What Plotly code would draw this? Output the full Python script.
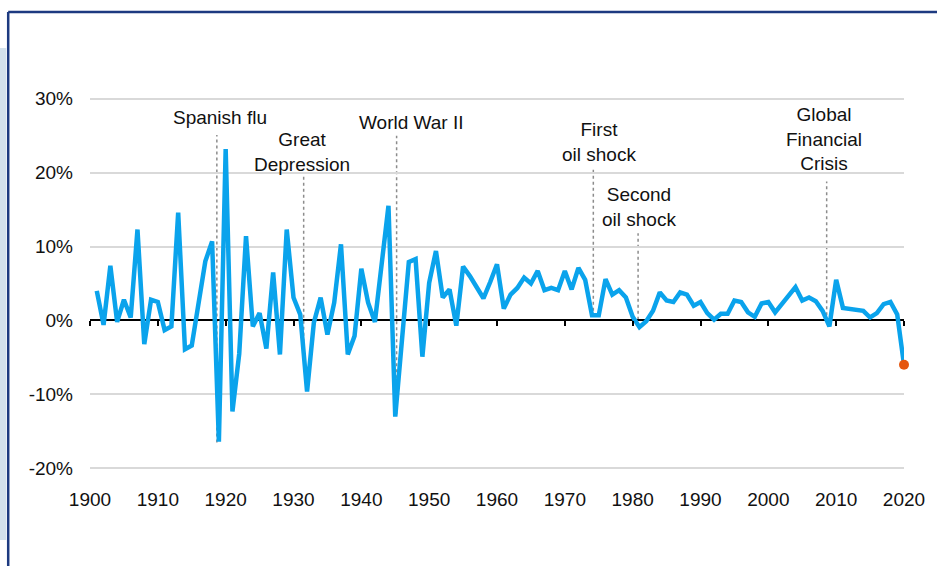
import plotly.graph_objects as go

# ── Dados ─────────────────────────────────────────────────────────────────────
years = list(range(1901, 2021))
growth = [
    4.0, -0.6, 7.4, -0.2, 2.8, 0.4, 12.3, -3.2, 2.8, 2.5,        # 1901-1910
    -1.3, -0.8, 14.6, -3.9, -3.4, 2.6, 8.0, 10.7, -16.4, 23.2,   # 1911-1920
    -12.3, -4.5, 11.4, -0.8, 1.0, -3.8, 6.5, -4.6, 12.3, 3.1,    # 1921-1930
    0.8, -9.6, -0.3, 3.1, -1.9, 2.4, 10.3, -4.6, -2.1, 7.0,      # 1931-1940
    2.4, -0.2, 7.5, 15.5, -13.0, -2.5, 7.9, 8.3, -4.9, 5.1,      # 1941-1950
    9.4, 3.1, 4.2, -0.7, 7.3, 6.0, 4.6, 3.0, 5.2, 7.6,           # 1951-1960
    1.6, 3.5, 4.4, 5.8, 5.0, 6.7, 4.1, 4.4, 4.1, 6.7,            # 1961-1970
    4.2, 7.1, 5.5, 0.7, 0.7, 5.6, 3.5, 4.1, 3.1, 0.5,            # 1971-1980
    -0.9, -0.1, 1.3, 3.8, 2.7, 2.5, 3.8, 3.5, 2.0, 2.5,          # 1981-1990
    1.0, 0.1, 0.9, 0.9, 2.7, 2.5, 1.1, 0.5, 2.3, 2.5,            # 1991-2000
    1.1, 2.3, 3.5, 4.5, 2.7, 3.1, 2.6, 1.3, -0.8, 5.5,           # 2001-2010
    1.7, 1.6, 1.4, 1.3, 0.4, 1.0, 2.2, 2.5, 0.8, -6.0,           # 2011-2020
]

event_labels = ["Spanish flu", "Great<br>Depression", "World War II",
                "First<br>oil shock", "Second<br>oil shock", "Global<br>Financial<br>Crisis"]
event_years = [1918.7, 1931.5, 1945.2, 1974.2, 1980.8, 2008.6]

y_ticks = [-20, -10, 0, 10, 20, 30]
y_tick_text = ["-20%", "-10%", "0%", "10%", "20%", "30%"]
x_ticks = list(range(1900, 2021, 10))

# ── Posicionamento dos rótulos (centro do texto) e das linhas pontilhadas ───
label_x = [1919.1, 1931.2, 1947.4, 1975.0, 1980.9, 2008.2]
label_y = [27.4, 22.8, 26.8, 24.2, 15.3, 24.5]
line_top = [25.1, 19.5, 25.0, 20.4, 11.8, 18.8]
line_bottom = [-16.5, -5.3, -12.7, 0.5, 0.1, -0.1]

AZUL = "#0AA3EC"
LARANJA = "#E5560F"
FONT = "Liberation Sans, Arial, sans-serif"

W, H = 937, 566
M_L, M_R, M_T, M_B = 90, 31, 95, 94
Y_RANGE = [-20.5, 30.5]


def px_to_paper(px, py):
    pw = W - M_L - M_R
    ph = H - M_T - M_B
    return (px - M_L) / pw, 1 - (py - M_T) / ph


fig = go.Figure()

fig.add_trace(go.Scatter(
    x=years, y=growth, mode="lines",
    line=dict(color=AZUL, width=4.5),
    cliponaxis=False, hoverinfo="skip", showlegend=False,
))
fig.add_trace(go.Scatter(
    x=[years[-1]], y=[growth[-1]], mode="markers",
    marker=dict(color=LARANJA, size=10),
    xaxis="x2", cliponaxis=False, hoverinfo="skip", showlegend=False,
))

# linhas pontilhadas dos eventos
for ex, top, bot in zip(event_years, line_top, line_bottom):
    fig.add_shape(type="line", xref="x", yref="y", x0=ex, x1=ex, y0=bot, y1=top,
                  line=dict(color="#8C8C8C", width=1.5, dash="dot"), layer="below")

for txt, lx, ly in zip(event_labels, label_x, label_y):
    fig.add_annotation(x=lx, y=ly, xref="x", yref="y", text=txt, showarrow=False,
                       xanchor="center", yanchor="middle", align="center",
                       font=dict(family=FONT, size=19, color="#111111"))

# moldura da página (borda azul-marinho e faixa lateral)
x0p, _ = px_to_paper(0, 0)
x6p, _ = px_to_paper(6, 0)
x8p, y12p = px_to_paper(8, 12)
_, y48p = px_to_paper(0, 48)
_, y540p = px_to_paper(0, 540)
xr, ybot = px_to_paper(W + 5, H + 5)
fig.add_shape(type="rect", xref="paper", yref="paper", x0=x0p - 0.01, x1=x6p, y0=y540p, y1=y48p,
              fillcolor="#D3E1EC", line=dict(width=0), layer="below")
fig.add_shape(type="line", xref="paper", yref="paper", x0=x8p, x1=xr, y0=y12p, y1=y12p,
              line=dict(color="#1D3A80", width=2.5))
fig.add_shape(type="line", xref="paper", yref="paper", x0=x8p, x1=x8p, y0=ybot, y1=y12p,
              line=dict(color="#1D3A80", width=2.5))

zero_pos = (0 - Y_RANGE[0]) / (Y_RANGE[1] - Y_RANGE[0])

fig.update_layout(
    width=W, height=H,
    margin=dict(l=M_L, r=M_R, t=M_T, b=M_B),
    paper_bgcolor="white", plot_bgcolor="white",
    font=dict(family=FONT, size=19, color="#111111"),
    showlegend=False,
    xaxis=dict(
        range=[1900, 2020], tickvals=x_ticks, showgrid=False, zeroline=False,
        showline=False, ticks="", ticklabelstandoff=14,
        tickfont=dict(size=19, color="#111111"),
    ),
    xaxis2=dict(
        range=[1900, 2020], tickvals=x_ticks, overlaying="x", anchor="free",
        position=zero_pos, showgrid=False, zeroline=False, showline=False,
        ticks="outside", ticklen=5, tickwidth=2, tickcolor="black",
        showticklabels=False,
    ),
    yaxis=dict(
        range=Y_RANGE, tickvals=y_ticks, ticktext=y_tick_text,
        showgrid=True, gridcolor="#D9D9D9", gridwidth=2,
        zeroline=True, zerolinecolor="black", zerolinewidth=2,
        showline=False, ticks="", ticklabelstandoff=16,
        tickfont=dict(size=19, color="#111111"),
    ),
)

fig.write_html("out.html", config={"displayModeBar": False},
               post_script="document.body.style.margin='0';")
